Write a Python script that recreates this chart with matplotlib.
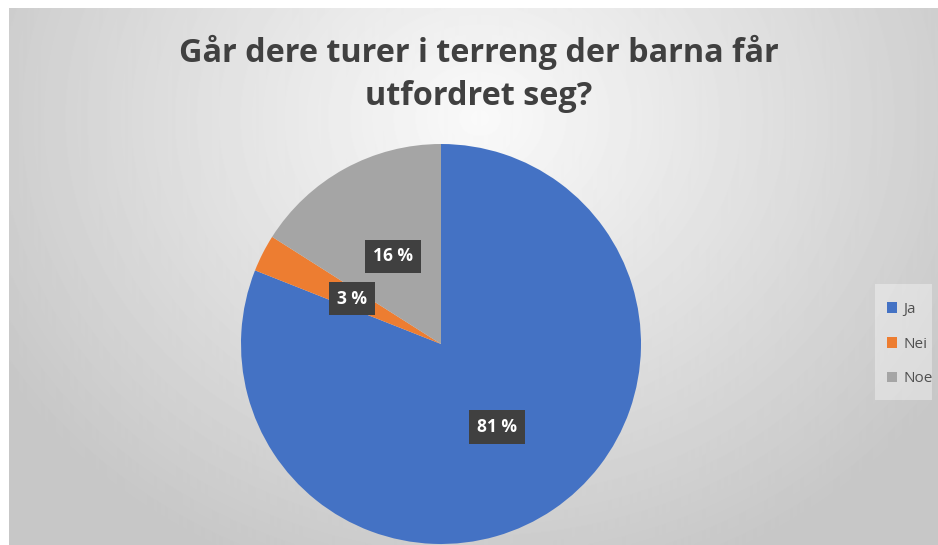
import matplotlib.pyplot as plt
import numpy as np
from matplotlib.patches import Rectangle

plt.rcParams['font.family'] = ['Open Sans', 'DejaVu Sans']

labels = ["Ja", "Nei", "Noe"]
values = [81, 3, 16]
colors = ["#4472C4", "#ED7D31", "#A5A5A5"]
title_lines = ["Går dere turer i terreng der barna får", "utfordret seg?"]

W, H = 938, 545
fig = plt.figure(figsize=(W / 100, H / 100), dpi=100)
fig.patch.set_facecolor("white")

# radial gray background of the chart area
bg = fig.add_axes([9 / W, 0, 1 - 9 / W, 1 - 8 / H])
bg.set_axis_off()
yy, xx = np.mgrid[0:537, 0:929]
d = np.hypot((xx - 470) / 1.0, (yy - 110) * 1.15)
t = np.clip(d / 560, 0, 1)
shade = 0.98 - 0.2 * t
bg.imshow(shade, cmap="gray", vmin=0, vmax=1, aspect="auto",
          extent=[0, 1, 0, 1], origin="upper")
bg.set_xlim(0, 1)
bg.set_ylim(0, 1)

# pie
r = 200
cx, cy = 441, 344
ax = fig.add_axes([(cx - r) / W, (H - cy - r) / H, 2 * r / W, 2 * r / H])
wedges, texts, autotexts = ax.pie(
    values, colors=colors, startangle=90, counterclock=False,
    autopct=lambda p: f"{p:.0f} %", pctdistance=0.5,
    wedgeprops=dict(linewidth=0),
    textprops=dict(color="white", fontsize=12.5, fontweight="bold"))
for at in autotexts:
    at.set_bbox(dict(boxstyle="square,pad=0.45", facecolor="#404040",
                     edgecolor="none"))
ax.set_xlim(-1, 1)
ax.set_ylim(-1, 1)
ax.set_aspect("equal")

# title, two lines
for line, base in zip(title_lines, [62, 105]):
    fig.text(479 / W, 1 - base / H, line, ha="center", va="baseline",
             fontsize=23.3, fontweight="bold", color="#404040")

# legend box
fig.patches.append(Rectangle((875 / W, 1 - 400 / H), 57 / W, 116 / H,
                             transform=fig.transFigure, facecolor="white",
                             alpha=0.35, edgecolor="none"))
fig.legend(wedges, labels, loc="center left", bbox_to_anchor=(879 / W, 1 - 344 / H),
           frameon=False, fontsize=11, labelcolor="#505050",
           handlelength=0.7, handleheight=0.7, handletextpad=0.4,
           labelspacing=1.3, borderpad=0)

fig.savefig("out.png", dpi=100)
